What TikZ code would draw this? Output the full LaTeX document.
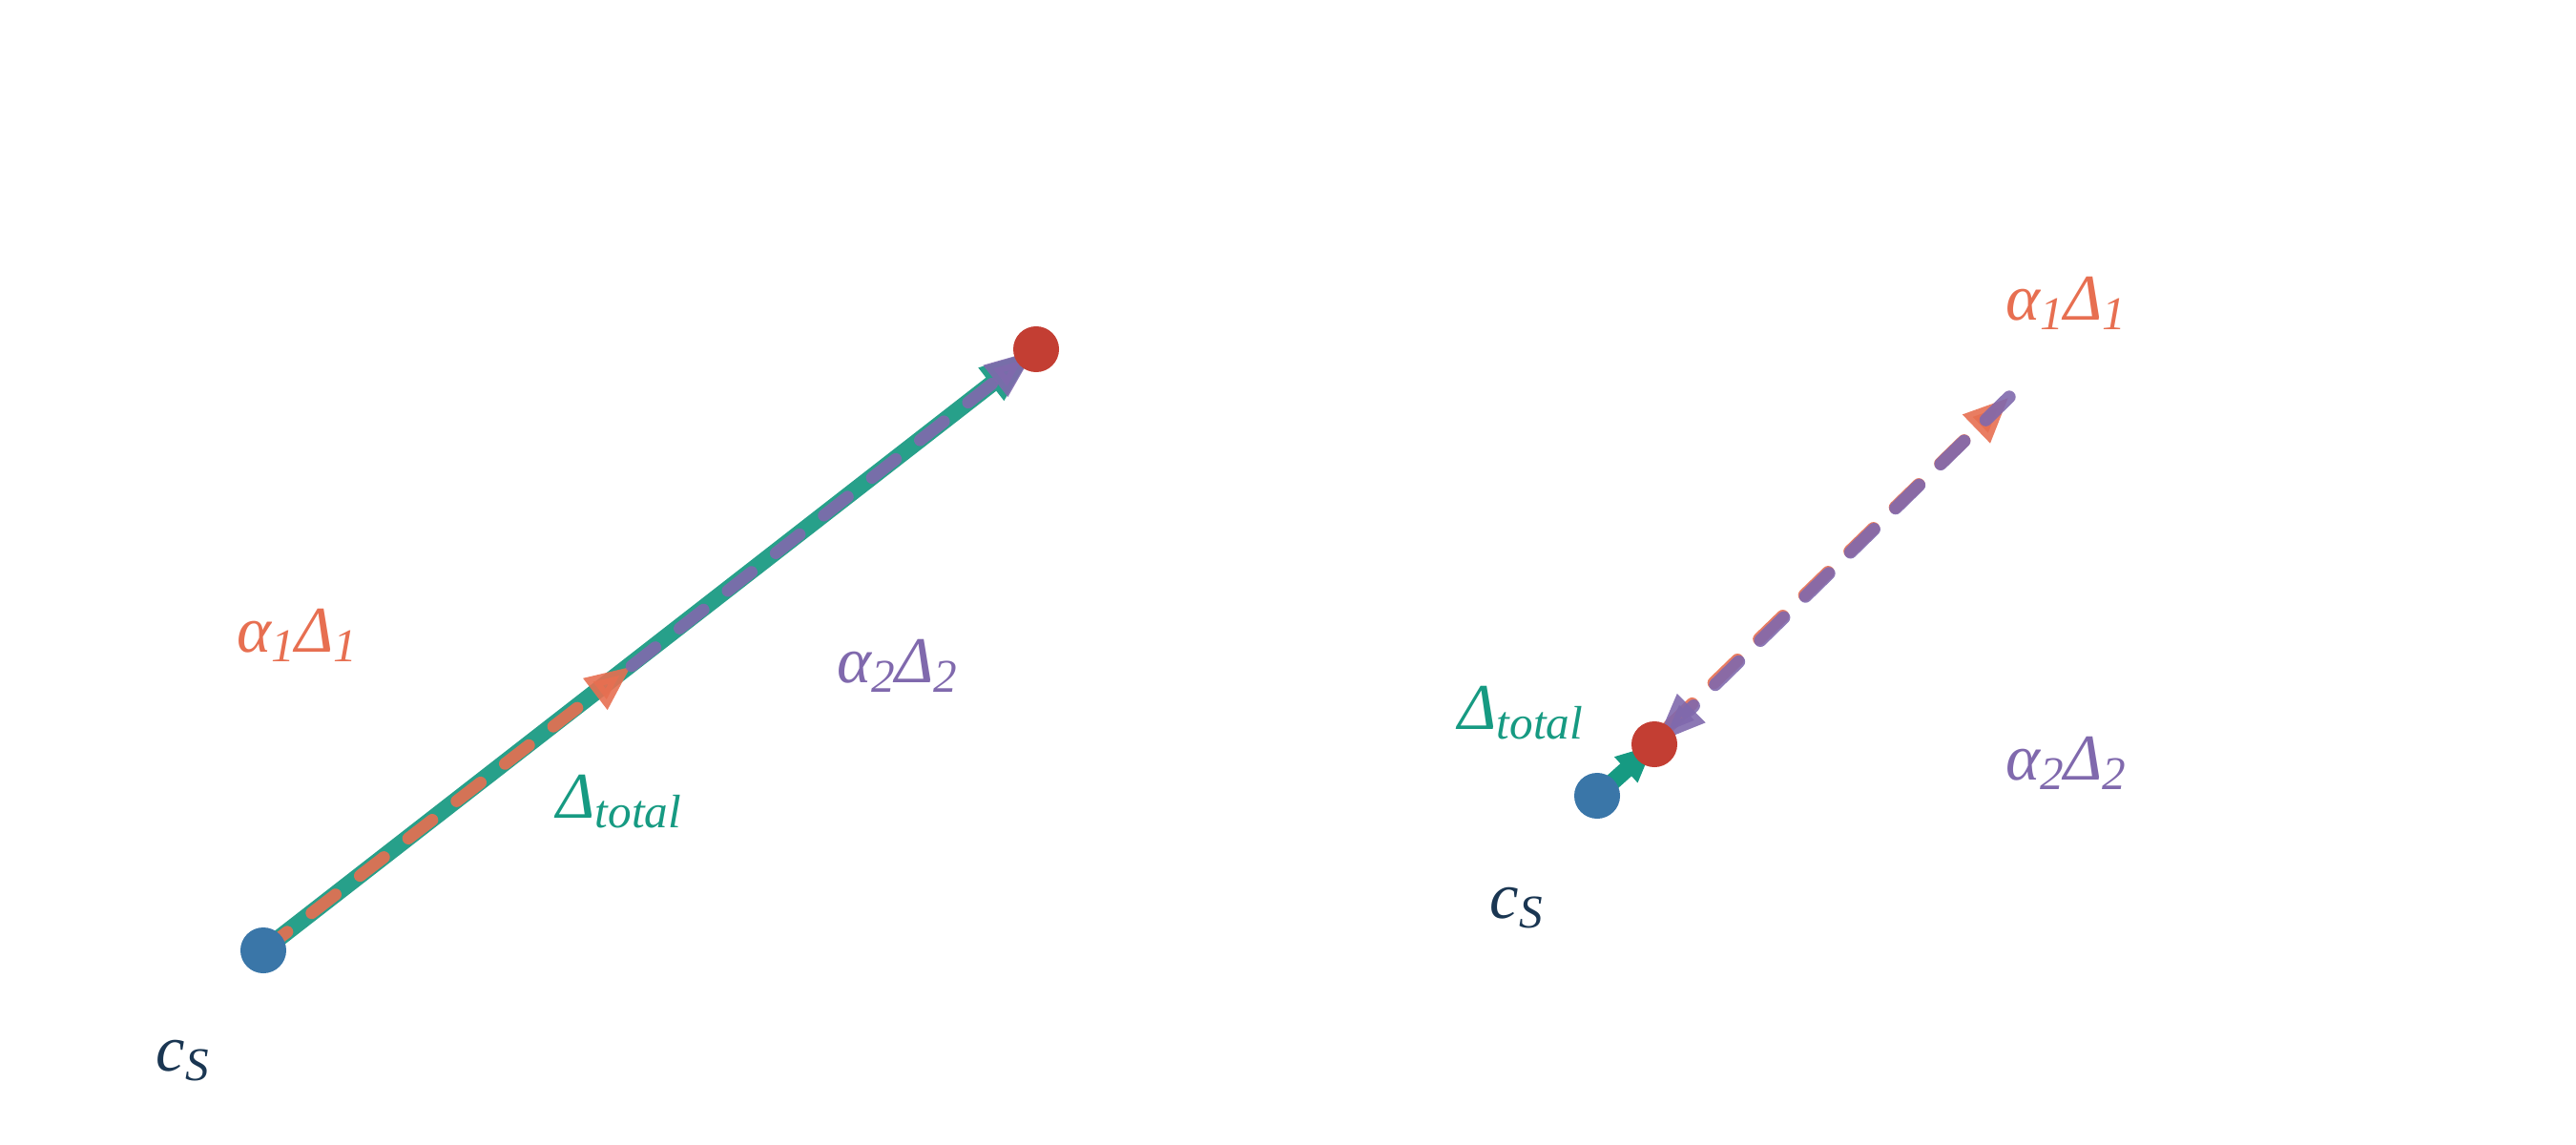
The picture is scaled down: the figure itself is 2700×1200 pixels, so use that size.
\documentclass[tikz,border=0pt]{standalone}
\usepackage{fontspec}
\setmainfont{Liberation Serif}
\usetikzlibrary{arrows.meta}
\definecolor{cgreenL}{HTML}{27A08A}
\definecolor{cgreen}{HTML}{169A82}
\definecolor{corange}{HTML}{E76F51}
\definecolor{cpurple}{HTML}{8069AD}
\definecolor{cblue}{HTML}{3A76A8}
\definecolor{cred}{HTML}{C33E33}
\definecolor{cnavy}{HTML}{1A3652}
\newcommand\sbx[1]{\raisebox{-3pt}{\fontsize{14pt}{15pt}\selectfont #1}}
\begin{document}
\begin{tikzpicture}[x=0.01cm,y=-0.01cm,
  dot/.style={circle,inner sep=0pt,minimum size=0.48cm,draw=none},
  totalarrow/.style={line width=5pt},
  partarrow/.style={line width=3.6pt,line cap=round,dash pattern=on 9pt off 9.2pt,opacity=0.9},
  partarrowR/.style={line width=3.8pt,line cap=round,dash pattern=on 9.8pt off 9pt,opacity=0.9},
  headO/.style={-{Triangle[length=13.7pt,width=10.8pt]}},
  headP/.style={-{Triangle[length=15.4pt,width=10.8pt]}},
  lab/.style={anchor=base west,inner sep=0pt,font=\fontsize{19.5pt}{20pt}\selectfont\itshape}]
\useasboundingbox (0,0) rectangle (2700,1200);
% left panel
\coordinate (sL) at (276,996);
\coordinate (mL) at (662,698);
\coordinate (eL) at (1086,366);
\draw[totalarrow, cgreenL, -{Triangle[length=17pt,width=11pt]}] (sL) -- (eL);
\draw[partarrow, corange, headO] (sL) -- (mL);
\draw[partarrow, cpurple, headP] (mL) -- (eL);
\node[dot, fill=cblue] (bL) at (sL) {};
\node[dot, fill=cred] (rL) at (eL) {};
% right panel
\coordinate (sR) at (1674,834);
\coordinate (tR) at (2106,416);
\coordinate (eR) at (1734,780);
\draw[partarrowR, dash phase=8pt, corange, headO] (sR) -- (tR);
\draw[totalarrow, cgreen, -{Triangle[length=11.4pt,width=9.5pt]}] (sR) -- (eR);
\draw[partarrowR, cpurple, headP] (tR) -- (eR);
\node[dot, fill=cblue] (bR) at (sR) {};
\node[dot, fill=cred] (rR) at (eR) {};
% labels
\node[lab, text=corange] (a1L) at (248,683) {α\sbx{1}Δ\sbx{1}};
\node[lab, text=cpurple] (a2L) at (877,715) {α\sbx{2}Δ\sbx{2}};
\node[lab, text=cgreen] (dtL) at (583,857) {Δ\sbx{total}};
\node[lab, text=cnavy] (csL) at (163,1122) {c\sbx{S}};
\node[lab, text=corange] (a1R) at (2102,335) {α\sbx{1}Δ\sbx{1}};
\node[lab, text=cpurple] (a2R) at (2102,817) {α\sbx{2}Δ\sbx{2}};
\node[lab, text=cgreen] (dtR) at (1528,764) {Δ\sbx{total}};
\node[lab, text=cnavy] (csR) at (1561,962) {c\sbx{S}};
\end{tikzpicture}
\end{document}
